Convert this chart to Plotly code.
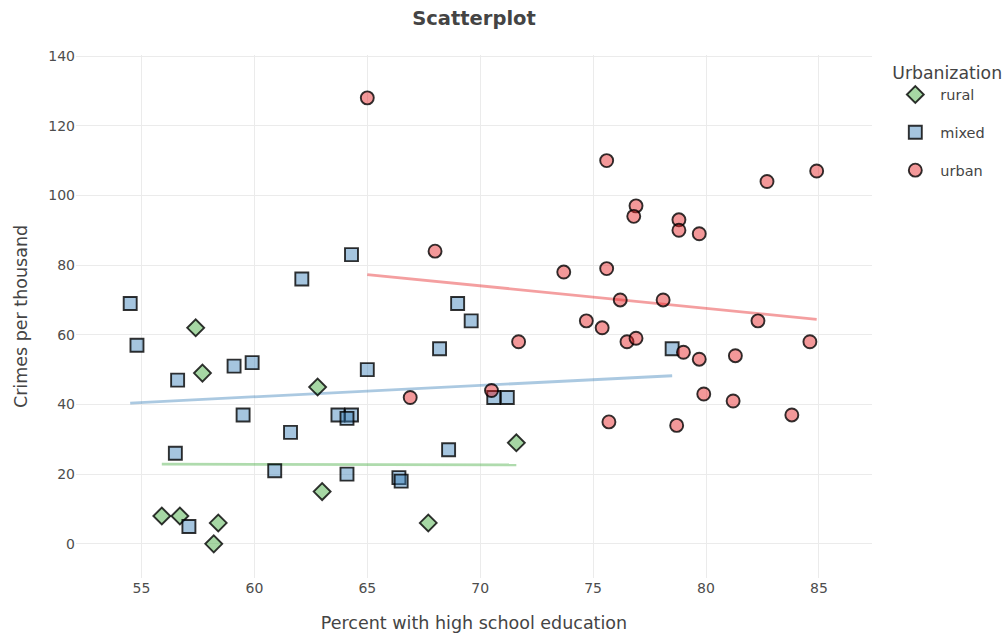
import numpy as np
import plotly.graph_objects as go

# ---- data ----
rural_x = [57.4, 57.7, 62.8, 63.0, 55.9, 56.7, 58.4, 58.2, 71.6, 67.7]
rural_y = [62, 49, 45, 15, 8, 8, 6, 0, 29, 6]

mixed_x = [64.3, 62.1, 54.5, 54.8, 56.6, 59.1, 59.9, 59.5, 61.6, 63.7, 64.3, 64.1,
           56.5, 60.9, 64.1, 57.1, 69.0, 69.6, 68.2, 65.0, 70.6, 71.2, 68.6, 66.4,
           66.5, 78.5]
mixed_y = [83, 76, 69, 57, 47, 51, 52, 37, 32, 37, 37, 36,
           26, 21, 20, 5, 69, 64, 56, 50, 42, 42, 27, 19,
           18, 56]

urban_x = [65.0, 68.0, 75.6, 84.9, 82.7, 76.9, 76.8, 78.8, 78.8, 79.7, 73.7, 75.6,
           76.2, 78.1, 74.7, 82.3, 75.4, 76.5, 76.9, 84.6, 71.7, 79.0, 79.7, 81.3,
           70.5, 66.9, 79.9, 81.2, 83.8, 75.7, 78.7]
urban_y = [128, 84, 110, 107, 104, 97, 94, 93, 90, 89, 78, 79,
           70, 70, 64, 64, 62, 58, 59, 58, 58, 55, 53, 54,
           44, 42, 43, 41, 37, 35, 34]

groups = ["rural", "mixed", "urban"]
xs = [rural_x, mixed_x, urban_x]
ys = [rural_y, mixed_y, urban_y]

symbols = ["diamond", "square", "circle"]
fills = ["rgba(77,175,74,0.5)", "rgba(55,126,184,0.45)", "rgba(228,26,28,0.45)"]
lines = ["rgba(77,175,74,0.45)", "rgba(55,126,184,0.42)", "rgba(228,26,28,0.42)"]

FONT = "DejaVu Sans"

fig = go.Figure()
for g, x, y, sym, fc, lc in zip(groups, xs, ys, symbols, fills, lines):
    xa = np.array(x, dtype=float)
    ya = np.array(y, dtype=float)
    b, a = np.polyfit(xa, ya, 1)
    xl = np.array([xa.min(), xa.max()])
    fig.add_trace(go.Scatter(
        x=xl, y=a + b * xl, mode="lines",
        line=dict(color=lc, width=2.8),
        showlegend=False, hoverinfo="skip", legendgroup=g,
    ))
for g, x, y, sym, fc, lc in zip(groups, xs, ys, symbols, fills, lines):
    fig.add_trace(go.Scatter(
        x=x, y=y, mode="markers", name=g, legendgroup=g,
        marker=dict(symbol=sym, size=13, color=fc,
                    line=dict(color="rgba(0,0,0,0.8)", width=1.9)),
    ))

fig.update_layout(
    width=1006, height=635,
    paper_bgcolor="white", plot_bgcolor="white",
    margin=dict(l=76, r=134, t=55, b=57, autoexpand=False),
    font=dict(family=FONT, color="#444444"),
    title=dict(text="<b>Scatterplot</b>", x=0.5, xref="paper", xanchor="center",
               y=1 - 18 / 635, yref="container", yanchor="middle",
               font=dict(family=FONT, size=19.5, color="#444444")),
    xaxis=dict(range=[52.1, 87.35], tickvals=[55, 60, 65, 70, 75, 80, 85],
               showgrid=True, gridcolor="#ebebeb", gridwidth=1, zeroline=False,
               showline=False, ticks="", automargin=False,
               tickfont=dict(family=FONT, size=14, color="#4d4d4d"),
               title=dict(text="Percent with high school education",
                          font=dict(family=FONT, size=17.5, color="#444444"),
                          standoff=21)),
    yaxis=dict(range=[-9.8, 140.3], tickvals=[0, 20, 40, 60, 80, 100, 120, 140],
               showgrid=True, gridcolor="#ebebeb", gridwidth=1, zeroline=False,
               showline=False, ticks="", automargin=False,
               tickfont=dict(family=FONT, size=14, color="#4d4d4d"),
               title=dict(text="Crimes per thousand",
                          font=dict(family=FONT, size=17.5, color="#444444"),
                          standoff=16)),
    legend=dict(
        title=dict(text="Urbanization", font=dict(family=FONT, size=17.3, color="#444444")),
        font=dict(family=FONT, size=14.5, color="#444444"),
        x=1.023, xanchor="left", y=0.998, yanchor="top",
        tracegroupgap=16, itemwidth=40, bgcolor="rgba(0,0,0,0)",
    ),
)

fig.write_html("out.html",
               config={"displayModeBar": False},
               post_script="document.body.style.margin='0px';document.body.style.overflow='hidden';")
